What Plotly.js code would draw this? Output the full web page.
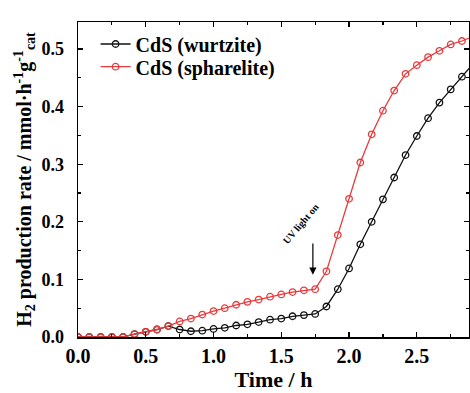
<!DOCTYPE html>
<html>
<head>
<meta charset="utf-8">
<script src="https://cdn.plot.ly/plotly-3.0.1.min.js"></script>
<style>html,body{margin:0;padding:0;background:#fff;}#chart{width:470px;height:393px;}</style>
</head>
<body>
<div id="chart"></div>
<script>
const time = [0, 0.083, 0.167, 0.25, 0.333, 0.417, 0.5, 0.583, 0.667, 0.75, 0.833, 0.917, 1.0, 1.083, 1.167, 1.25, 1.333, 1.417, 1.5, 1.583, 1.667, 1.75, 1.833, 1.917, 2.0, 2.083, 2.167, 2.25, 2.333, 2.417, 2.5, 2.583, 2.667, 2.75, 2.833, 2.917];
const wurtzite = [0, 0, 0, 0, 0, 0.005, 0.009, 0.013, 0.019, 0.013, 0.010, 0.011, 0.014, 0.016, 0.020, 0.022, 0.026, 0.030, 0.032, 0.036, 0.038, 0.040, 0.053, 0.083, 0.119, 0.161, 0.200, 0.239, 0.277, 0.316, 0.349, 0.380, 0.407, 0.430, 0.452, 0.475];
const spharelite = [0, 0, 0, 0, 0, 0.005, 0.009, 0.013, 0.019, 0.027, 0.032, 0.039, 0.045, 0.050, 0.056, 0.061, 0.065, 0.070, 0.074, 0.078, 0.081, 0.083, 0.114, 0.177, 0.240, 0.303, 0.352, 0.393, 0.428, 0.457, 0.472, 0.486, 0.497, 0.508, 0.514, 0.522];
const seriesNames = ["CdS (wurtzite)", "CdS (spharelite)"];
const xTicks = [0, 0.5, 1.0, 1.5, 2.0, 2.5];
const xTickText = ["0.0", "0.5", "1.0", "1.5", "2.0", "2.5"];
const yTicks = [0, 0.1, 0.2, 0.3, 0.4, 0.5];
const yTickText = ["0.0", "0.1", "0.2", "0.3", "0.4", "0.5"];
const uvOn = {x: 1.733, yTip: 0.108, yTail: 0.165, label: "UV light on"};

const F = "Liberation Serif, Times New Roman, serif";
const RED = "#e8393b";
const BLACK = "#111111";

const mk = (c) => ({symbol: "circle-open", size: 6.5, color: c, line: {width: 1.3, color: c}});

const traces = [
  {x: time, y: wurtzite, name: seriesNames[0], type: "scatter", mode: "lines+markers",
   line: {color: BLACK, width: 1.3}, marker: mk(BLACK), legend: "legend"},
  {x: time, y: spharelite, name: seriesNames[1], type: "scatter", mode: "lines+markers",
   line: {color: RED, width: 1.3}, marker: mk(RED), legend: "legend2"}
];

const legFont = {family: F, size: 20, color: "#000", weight: "bold"};

const layout = {
  width: 470, height: 393,
  margin: {l: 78, r: 1, t: 22, b: 56},
  paper_bgcolor: "#fff", plot_bgcolor: "#fff",
  font: {family: F, color: "#000"},
  showlegend: true,
  legend: {x: 0.045, y: 0.992, xanchor: "left", yanchor: "top", bgcolor: "rgba(0,0,0,0)",
           font: legFont, itemwidth: 30},
  legend2: {x: 0.045, y: 0.92, xanchor: "left", yanchor: "top", bgcolor: "rgba(0,0,0,0)",
           font: legFont, itemwidth: 30},
  xaxis: {
    range: [0, 2.885], tickvals: xTicks, ticktext: xTickText,
    ticks: "inside", ticklen: 5, tickwidth: 1.3, tickcolor: "#000",
    minor: {dtick: 0.25, tick0: 0, ticks: "inside", ticklen: 3, tickwidth: 1.2, tickcolor: "#000"},
    showline: true, linecolor: "#000", linewidth: 1.5, mirror: "ticks",
    showgrid: false, zeroline: false,
    tickfont: {family: F, size: 20, color: "#000", weight: "bold"},
    title: {text: "Time / h", font: {family: F, size: 22, color: "#000", weight: "bold"}, standoff: 6}
  },
  yaxis: {
    range: [0, 0.547], tickvals: yTicks, ticktext: yTickText,
    ticks: "inside", ticklen: 5, tickwidth: 1.3, tickcolor: "#000",
    minor: {dtick: 0.05, tick0: 0, ticks: "inside", ticklen: 3, tickwidth: 1.2, tickcolor: "#000"},
    showline: true, linecolor: "#000", linewidth: 1.5, mirror: "ticks",
    showgrid: false, zeroline: false, ticklabelstandoff: 9,
    tickfont: {family: F, size: 18, color: "#000", weight: "bold"},
    title: {text: "H<sub>2</sub> production rate / mmol·h<sup>-1</sup>g<sup>-1</sup><sub>cat</sub>",
            font: {family: F, size: 20, color: "#000", weight: "bold"}, standoff: 4}
  },
  annotations: [
    {x: uvOn.x, y: uvOn.yTip, ax: uvOn.x, ay: uvOn.yTail, xref: "x", yref: "y", axref: "x", ayref: "y",
     text: "", showarrow: true, arrowhead: 2, arrowsize: 1.2, arrowwidth: 1.2, arrowcolor: "#000"},
    {x: 1.645, y: 0.197, xref: "x", yref: "y", text: uvOn.label, showarrow: false, textangle: -50,
     font: {family: F, size: 10, color: "#000", weight: "bold"}}
  ]
};

Plotly.newPlot("chart", traces, layout, {displayModeBar: false, staticPlot: true});
</script>
</body>
</html>
